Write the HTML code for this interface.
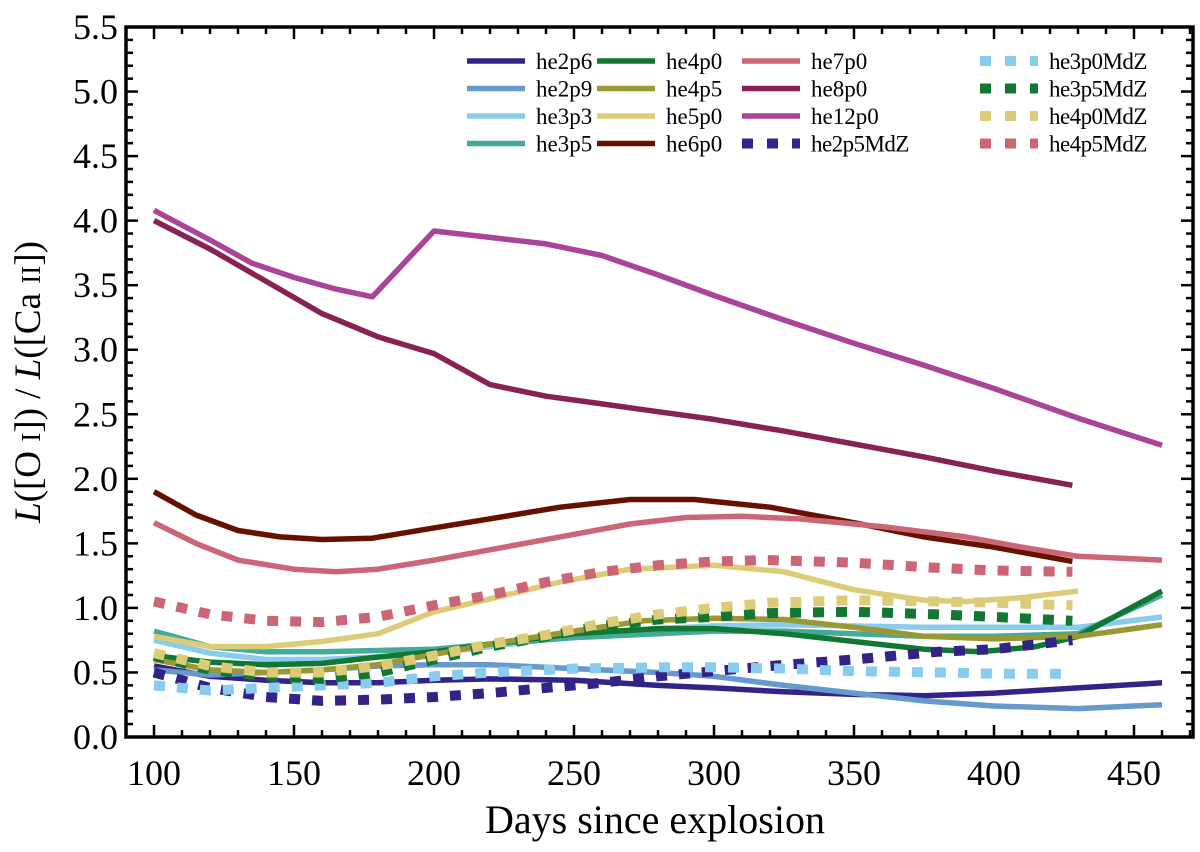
<!DOCTYPE html>
<html><head><meta charset="utf-8"><style>
html,body{margin:0;padding:0;background:#fff}
svg{display:block}
text{font-family:"Liberation Serif",serif;fill:#000}
</style></head><body>
<svg id="chart" width="1200" height="852" viewBox="0 0 1200 852" xmlns="http://www.w3.org/2000/svg">
<g id="series"></g>
<g id="axes"></g>
<g id="legend"></g>
<text x="655" y="833" font-size="40" text-anchor="middle">Days since explosion</text>
<text transform="translate(40,382) rotate(-90)" font-size="37" text-anchor="middle"><tspan font-style="italic">L</tspan>([O <tspan font-size="27">I</tspan>]) / <tspan font-style="italic">L</tspan>([Ca <tspan font-size="27">II</tspan>])</text>
</svg>
<script>
const xTicks = [100,150,200,250,300,350,400,450];
const yTicks = ["0.0","0.5","1.0","1.5","2.0","2.5","3.0","3.5","4.0","4.5","5.0","5.5"];
const seriesNames = ["he2p6","he2p9","he3p3","he3p5","he4p0","he4p5","he5p0","he6p0","he7p0","he8p0","he12p0","he2p5MdZ","he3p0MdZ","he3p5MdZ","he4p0MdZ","he4p5MdZ"];
const seriesColors = ["#332288","#6699cc","#88ccee","#44aa99","#117733","#999933","#ddcc77","#661100","#cc6677","#882255","#aa4499","#332288","#88ccee","#117733","#ddcc77","#cc6677"];
const seriesDashed = [false,false,false,false,false,false,false,false,false,false,false,true,true,true,true,true];
const he2p6 = [[100,0.55],[120,0.47],[140,0.44],[160,0.42],[180,0.42],[200,0.44],[220,0.45],[250,0.44],[280,0.40],[300,0.38],[325,0.35],[350,0.33],[375,0.32],[400,0.34],[430,0.38],[460,0.42]];
const he2p9 = [[100,0.52],[120,0.48],[140,0.50],[160,0.52],[180,0.55],[200,0.56],[220,0.56],[250,0.53],[280,0.50],[300,0.47],[325,0.40],[350,0.34],[375,0.28],[400,0.24],[430,0.22],[460,0.25]];
const he3p3 = [[100,0.75],[120,0.65],[140,0.60],[160,0.60],[180,0.62],[200,0.65],[220,0.70],[250,0.78],[280,0.84],[300,0.86],[325,0.87],[350,0.86],[375,0.85],[400,0.85],[430,0.85],[460,0.93]];
const he3p5 = [[100,0.82],[120,0.70],[140,0.66],[160,0.66],[180,0.67],[200,0.68],[220,0.72],[250,0.77],[280,0.80],[300,0.82],[325,0.82],[350,0.80],[375,0.78],[400,0.78],[430,0.80],[460,1.10]];
const he4p0 = [[100,0.63],[120,0.58],[140,0.56],[160,0.57],[180,0.62],[200,0.66],[220,0.72],[250,0.80],[280,0.84],[300,0.84],[325,0.80],[350,0.74],[375,0.68],[395,0.66],[415,0.70],[430,0.78],[460,1.13]];
const he4p5 = [[100,0.60],[120,0.52],[140,0.50],[160,0.52],[180,0.56],[200,0.64],[220,0.72],[250,0.82],[275,0.90],[300,0.92],[325,0.91],[350,0.85],[375,0.78],[400,0.76],[430,0.78],[460,0.87]];
const he5p0 = [[100,0.78],[120,0.70],[140,0.70],[160,0.74],[180,0.80],[200,0.97],[220,1.07],[245,1.20],[270,1.30],[300,1.33],[325,1.28],[350,1.14],[375,1.06],[390,1.05],[410,1.08],[430,1.13]];
const he6p0 = [[100,1.90],[115,1.72],[130,1.60],[145,1.55],[160,1.53],[178,1.54],[200,1.62],[220,1.69],[245,1.78],[270,1.84],[293,1.84],[320,1.78],[350,1.66],[375,1.55],[400,1.47],[428,1.36]];
const he7p0 = [[100,1.66],[115,1.50],[130,1.37],[150,1.30],[165,1.28],[180,1.30],[200,1.37],[220,1.45],[245,1.55],[270,1.65],[290,1.70],[310,1.71],[330,1.69],[360,1.63],[390,1.55],[410,1.47],[430,1.40],[460,1.37]];
const he8p0 = [[100,4.00],[120,3.78],[140,3.53],[160,3.28],[180,3.10],[200,2.97],[220,2.73],[240,2.64],[260,2.58],[280,2.52],[300,2.46],[325,2.37],[350,2.27],[375,2.17],[400,2.06],[428,1.95]];
const he12p0 = [[100,4.08],[120,3.85],[135,3.67],[150,3.56],[165,3.47],[178,3.41],[200,3.92],[220,3.87],[240,3.82],[260,3.73],[280,3.58],[300,3.42],[325,3.23],[350,3.05],[375,2.88],[400,2.70],[430,2.47],[460,2.26]];
const he2p5MdZ = [[100,0.50],[120,0.38],[140,0.31],[160,0.28],[180,0.29],[200,0.31],[220,0.34],[240,0.38],[260,0.42],[280,0.47],[300,0.51],[320,0.55],[350,0.60],[380,0.66],[400,0.68],[428,0.75]];
const he3p0MdZ = [[100,0.40],[120,0.36],[140,0.38],[160,0.40],[180,0.42],[200,0.47],[220,0.50],[250,0.53],[280,0.54],[300,0.54],[325,0.53],[350,0.51],[380,0.50],[400,0.49],[428,0.49]];
const he3p5MdZ = [[100,0.63],[120,0.52],[140,0.47],[160,0.45],[180,0.50],[200,0.60],[220,0.70],[240,0.78],[260,0.86],[280,0.91],[300,0.93],[320,0.96],[350,0.97],[380,0.95],[400,0.93],[428,0.90]];
const he4p0MdZ = [[100,0.65],[120,0.55],[140,0.50],[160,0.50],[180,0.55],[200,0.63],[220,0.72],[240,0.79],[260,0.88],[280,0.95],[300,1.00],[320,1.04],[350,1.06],[380,1.05],[400,1.04],[428,1.02]];
const he4p5MdZ = [[100,1.05],[120,0.95],[140,0.90],[160,0.89],[180,0.93],[200,1.02],[220,1.10],[240,1.20],[260,1.28],[280,1.33],[300,1.36],[320,1.37],[350,1.35],[380,1.31],[400,1.29],[428,1.28]];
const seriesData = [he2p6,he2p9,he3p3,he3p5,he4p0,he4p5,he5p0,he6p0,he7p0,he8p0,he12p0,he2p5MdZ,he3p0MdZ,he3p5MdZ,he4p0MdZ,he4p5MdZ];

const NS="http://www.w3.org/2000/svg";
const L=126,R=1193,T=27,B=737;
const xMin=90,xMax=(R-154)/2.8+100;
const yMin=0,yMax=5.5;
function sx(d){return L+(d-xMin)/(xMax-xMin)*(R-L);}
function sy(v){return B-(v-yMin)/(yMax-yMin)*(B-T);}
function mk(tag,attrs,parent){const e=document.createElementNS(NS,tag);for(const k in attrs)e.setAttribute(k,attrs[k]);parent.appendChild(e);return e;}

const sg=document.getElementById('series');
seriesData.forEach((s,i)=>{
  const d=s.map((p,j)=>(j?'L':'M')+sx(p[0]).toFixed(1)+','+sy(p[1]).toFixed(1)).join(' ');
  const attrs={d:d,fill:'none',stroke:seriesColors[i],'stroke-width':seriesDashed[i]?10:5.5,'stroke-linejoin':'round'};
  if(seriesDashed[i])attrs['stroke-dasharray']='11 12';
  const p=mk('path',attrs,sg);
  
  
});

const ag=document.getElementById('axes');
const frame=mk('rect',{x:L,y:T,width:R-L,height:B-T,fill:'none',stroke:'#000','stroke-width':3.5},ag);


for(let d=100;d<=470;d+=10){
  const x=sx(d),major=(d%50===0),len=major?12:7;
  const t1=mk('line',{x1:x,x2:x,y1:B,y2:B-len,stroke:'#000','stroke-width':2.5},ag);
  
  
  const t2=mk('line',{x1:x,x2:x,y1:T,y2:T+len,stroke:'#000','stroke-width':2.5},ag);
  
  
}
xTicks.forEach(d=>{
  const t=mk('text',{x:sx(d),y:785,'font-size':36,'text-anchor':'middle'},ag);
  t.textContent=d;
  
  
});
for(let k=0;k<=55;k++){
  const v=k/10,y=sy(v),major=(k%5===0),len=major?12:7;
  const t1=mk('line',{x1:L,x2:L+len,y1:y,y2:y,stroke:'#000','stroke-width':2.5},ag);
  
  
  const t2=mk('line',{x1:R,x2:R-len,y1:y,y2:y,stroke:'#000','stroke-width':2.5},ag);
  
  
}
yTicks.forEach(s=>{
  const t=mk('text',{x:118,y:sy(parseFloat(s))+12,'font-size':36,'text-anchor':'end'},ag);
  t.textContent=s;
  
  
});

const lg=document.getElementById('legend');
const colX=[467,597,742,980];
seriesNames.forEach((n,i)=>{
  const c=Math.floor(i/4),r=i%4;
  const y=61+r*27.5,x0=colX[c];
  const g=mk('g',{},lg);
  
  
  const a={x1:x0,x2:x0+58,y1:y,y2:y,stroke:seriesColors[i],'stroke-width':seriesDashed[i]?10:5.5};
  if(seriesDashed[i])a['stroke-dasharray']='11 14';
  mk('line',a,g);
  const t=mk('text',{x:x0+69,y:y+8,'font-size':23,'textLength':n.length>6?(n.length*12.3):null},g);
  if(n.length<=6) t.removeAttribute('textLength');
  t.textContent=n;
});
</script>
</body></html>
